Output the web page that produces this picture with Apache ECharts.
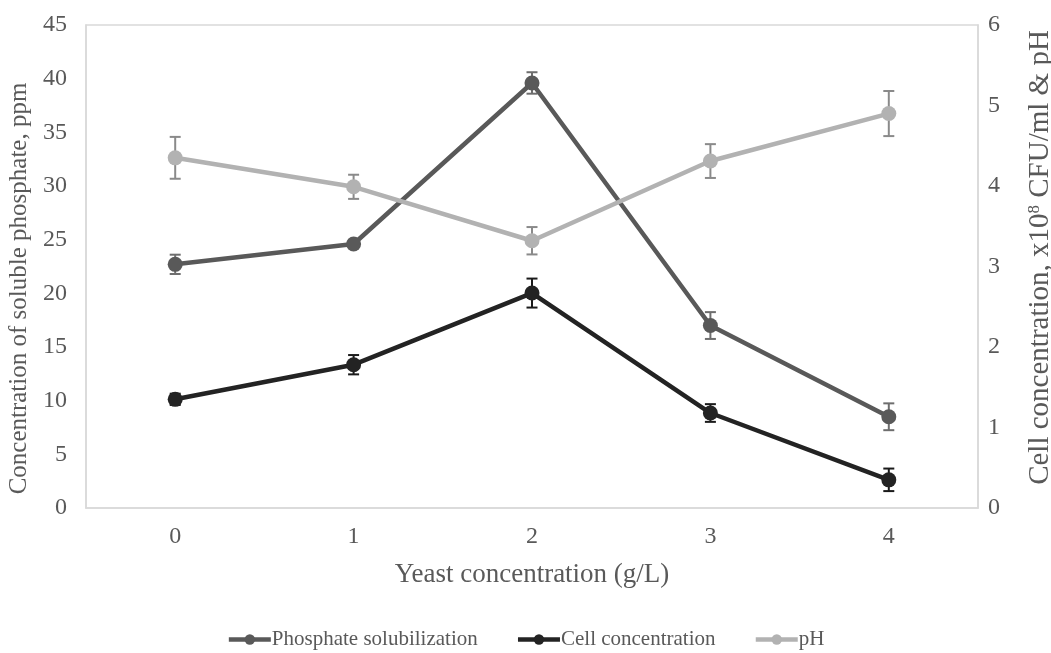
<!DOCTYPE html>
<html>
<head>
<meta charset="utf-8">
<script src="https://cdn.jsdelivr.net/npm/echarts@6/dist/echarts.min.js"></script>
<style>html,body{margin:0;padding:0;background:#fff}#c{width:1051px;height:653px}</style>
</head>
<body>
<div id="c"></div>
<script>
var categories = ['0', '1', '2', '3', '4'];
var phosphate = [22.7, 24.6, 39.6, 17.0, 8.5];
var phosphateErr = [0.9, 0.3, 1.0, 1.25, 1.25];
var cell = [1.35, 1.78, 2.67, 1.18, 0.35];
var cellErr = [0.07, 0.12, 0.18, 0.11, 0.14];
var ph = [4.35, 3.99, 3.32, 4.31, 4.9];
var phErr = [0.26, 0.15, 0.17, 0.21, 0.28];
var leftTicks = [0, 45, 5];
var rightTicks = [0, 6, 1];

var FONT = '"Liberation Serif", "Times New Roman", serif';
var TXT = '#595959';

function errData(vals, errs) {
  return vals.map(function (v, i) { return [i, v - errs[i], v + errs[i]]; });
}
function errSeries(name, yIdx, vals, errs, color) {
  return {
    type: 'custom',
    name: name,
    yAxisIndex: yIdx,
    z: 1,
    silent: true,
    data: errData(vals, errs),
    encode: { x: 0, y: [1, 2] },
    renderItem: function (params, api) {
      var lo = api.coord([api.value(0), api.value(1)]);
      var hi = api.coord([api.value(0), api.value(2)]);
      var w = 5.5;
      var st = { stroke: color, lineWidth: 2 };
      return {
        type: 'group',
        children: [
          { type: 'line', shape: { x1: hi[0], y1: hi[1], x2: lo[0], y2: lo[1] }, style: st },
          { type: 'line', shape: { x1: hi[0] - w, y1: hi[1], x2: hi[0] + w, y2: hi[1] }, style: st },
          { type: 'line', shape: { x1: lo[0] - w, y1: lo[1], x2: lo[0] + w, y2: lo[1] }, style: st }
        ]
      };
    }
  };
}
function lineSeries(name, yIdx, vals, color) {
  return {
    type: 'line', name: name, yAxisIndex: yIdx, data: vals, z: 3,
    symbol: 'circle', symbolSize: 15,
    lineStyle: { color: color, width: 4.5 },
    itemStyle: { color: color },
    emphasis: { disabled: true }
  };
}

var chart = echarts.init(document.getElementById('c'));
chart.setOption({
  animation: false,
  backgroundColor: '#fff',
  textStyle: { fontFamily: FONT },
  grid: { left: 86, right: 73, top: 25, bottom: 145, show: true, borderColor: '#d9d9d9', borderWidth: 1.5,
          containLabel: false, outerBoundsMode: 'none' },
  legend: {
    data: ['Phosphate solubilization', 'Cell concentration', 'pH'],
    top: 624, left: 'center',
    itemWidth: 42, itemHeight: 13, itemGap: 38,
    lineStyle: { width: 4.5 },
    textStyle: { fontFamily: FONT, fontSize: 21, color: TXT, padding: [0, 0, 0, -4] }
  },
  xAxis: {
    type: 'category', data: categories, boundaryGap: true,
    axisLine: { show: true, lineStyle: { color: '#d9d9d9', width: 1.5 } },
    axisTick: { show: false },
    axisLabel: { color: TXT, fontSize: 24, fontFamily: FONT, margin: 17 },
    name: 'Yeast concentration (g/L)', nameLocation: 'middle', nameGap: 53,
    nameTextStyle: { color: TXT, fontSize: 27, fontFamily: FONT }
  },
  yAxis: [
    {
      type: 'value', min: leftTicks[0], max: leftTicks[1], interval: leftTicks[2],
      splitLine: { show: false },
      axisLine: { show: true, lineStyle: { color: '#d9d9d9', width: 1.5 } },
      axisTick: { show: false },
      axisLabel: { color: TXT, fontSize: 24, fontFamily: FONT, margin: 19 },
      name: 'Concentration of soluble phosphate, ppm', nameLocation: 'middle', nameGap: 50,
      nameTextStyle: { color: TXT, fontSize: 25, fontFamily: FONT, padding: [0, 44, 0, 0] }
    },
    {
      type: 'value', min: rightTicks[0], max: rightTicks[1], interval: rightTicks[2],
      position: 'right',
      splitLine: { show: false },
      axisLine: { show: true, lineStyle: { color: '#d9d9d9', width: 1.5 } },
      axisTick: { show: false },
      axisLabel: { color: TXT, fontSize: 24, fontFamily: FONT, margin: 10 },
      name: 'Cell concentration, x10{sup|8} CFU/ml & pH', nameLocation: 'middle', nameGap: 48,
      nameTextStyle: {
        color: TXT, fontSize: 29, fontFamily: FONT, padding: [0, 0, 0, 18],
        rich: { sup: { fontSize: 17, color: TXT, fontFamily: FONT, verticalAlign: 'top', padding: [0, 0, 12, 0] } }
      }
    }
  ],
  series: [
    errSeries('e1', 0, phosphate, phosphateErr, '#6e6e6e'),
    errSeries('e2', 1, cell, cellErr, '#1a1a1a'),
    errSeries('e3', 1, ph, phErr, '#8a8a8a'),
    lineSeries('Phosphate solubilization', 0, phosphate, '#595959'),
    lineSeries('Cell concentration', 1, cell, '#232323'),
    lineSeries('pH', 1, ph, '#b2b2b2')
  ]
});
</script>
</body>
</html>
